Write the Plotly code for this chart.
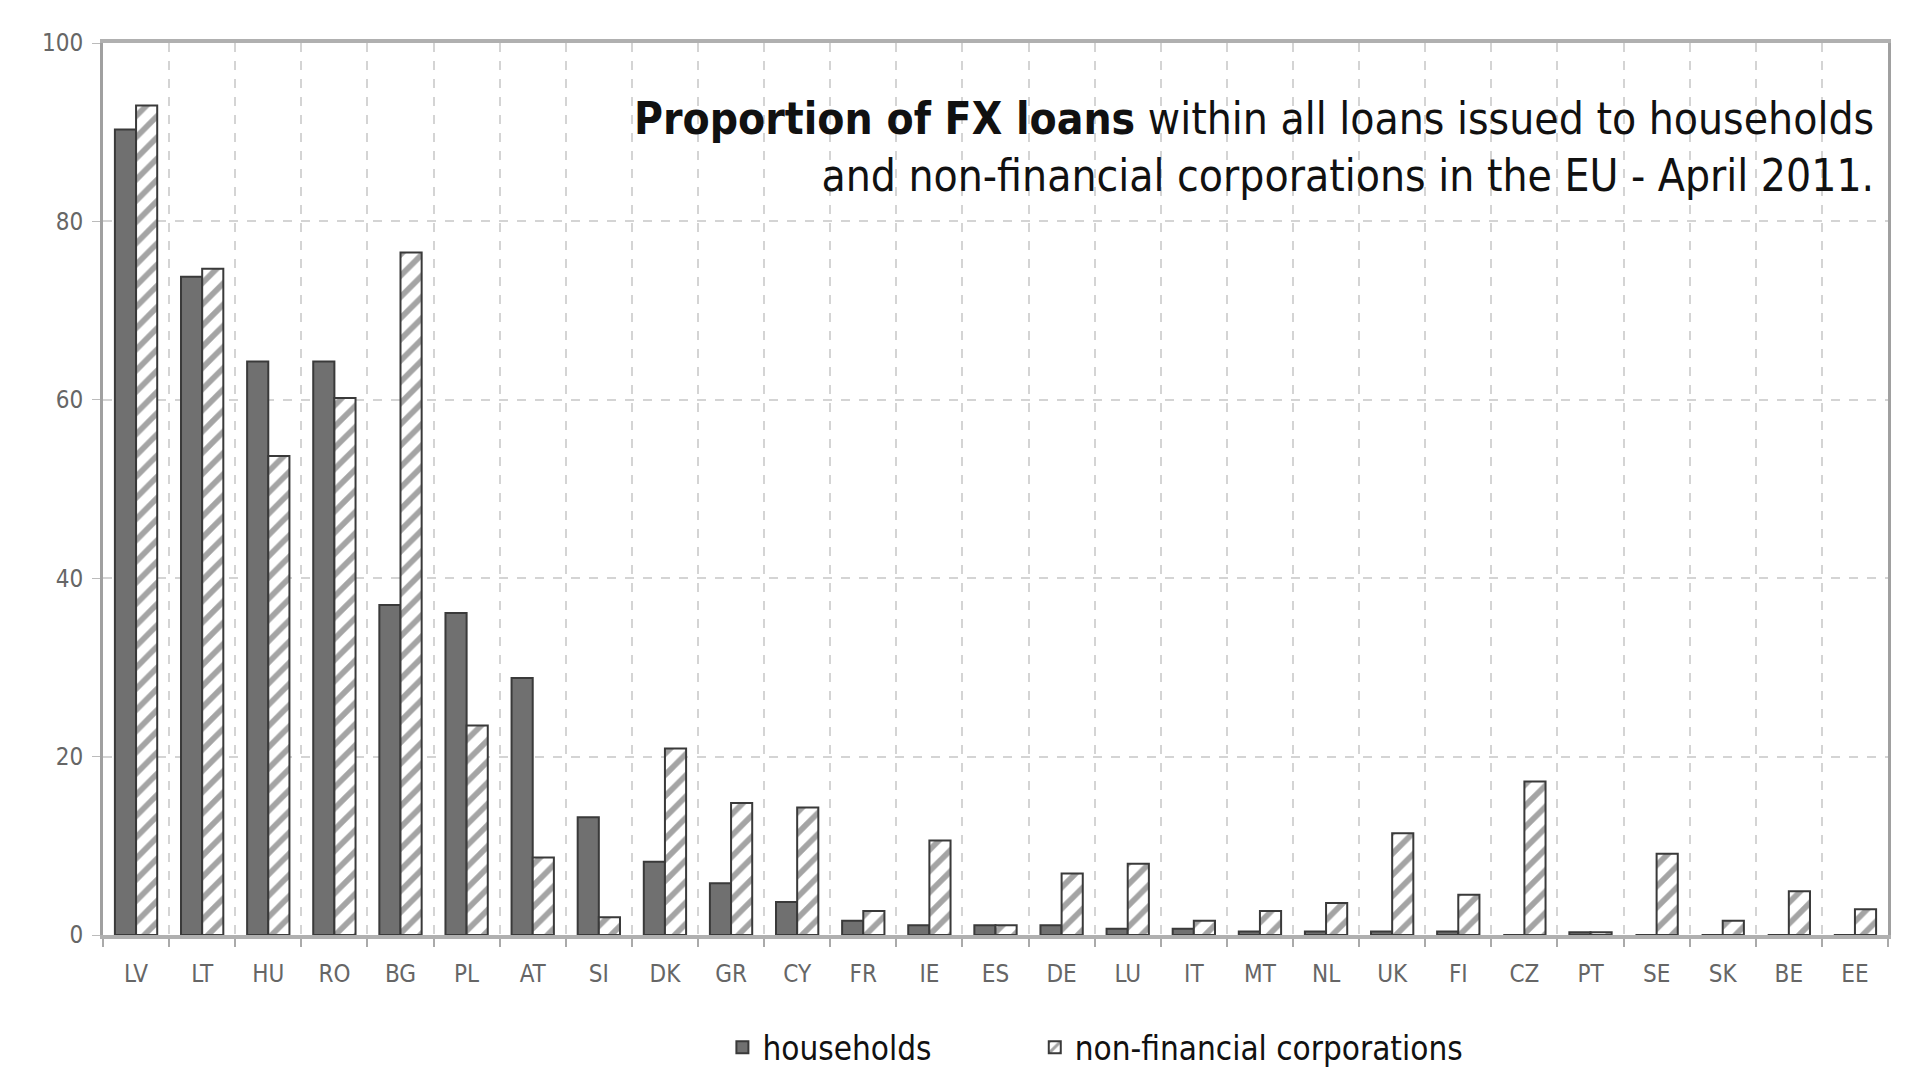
import plotly.graph_objects as go

countries = ["LV", "LT", "HU", "RO", "BG", "PL", "AT", "SI", "DK", "GR", "CY", "FR", "IE", "ES",
             "DE", "LU", "IT", "MT", "NL", "UK", "FI", "CZ", "PT", "SE", "SK", "BE", "EE"]
households = [90.3, 73.8, 64.3, 64.3, 37.0, 36.1, 28.8, 13.2, 8.2, 5.8, 3.7, 1.6, 1.1, 1.1,
              1.1, 0.7, 0.7, 0.4, 0.4, 0.4, 0.4, 0.0, 0.3, 0.0, 0.0, 0.0, 0.0]
nonfin_corps = [93.0, 74.7, 53.7, 60.2, 76.5, 23.5, 8.7, 2.0, 20.9, 14.8, 14.3, 2.7, 10.6, 1.1,
                6.9, 8.0, 1.6, 2.7, 3.6, 11.4, 4.5, 17.2, 0.3, 9.1, 1.6, 4.9, 2.9]
y_ticks = [0, 20, 40, 60, 80, 100]

FONT = "Liberation Sans Narrow, DejaVu Sans Condensed, Roboto, sans-serif"

fig = go.Figure()
fig.add_trace(go.Bar(
    x=countries, y=households, name="households", legend="legend",
    marker=dict(color="#707070", line=dict(color="#3a3a3a", width=2)),
))
fig.add_trace(go.Bar(
    x=countries, y=nonfin_corps, name="non-financial corporations", legend="legend2",
    marker=dict(color="white", line=dict(color="#3a3a3a", width=2),
                pattern=dict(shape="/", fgcolor="#4a4a4a", bgcolor="white", size=15, solidity=0.38)),
))

leg_common = dict(orientation="h", yanchor="middle", y=-0.126, xanchor="left",
                  font=dict(family=FONT, size=33, color="#111111"),
                  itemwidth=30, bgcolor="rgba(0,0,0,0)")

fig.update_layout(
    width=1922, height=1074,
    margin=dict(l=103, r=34, t=43, b=139, autoexpand=False),
    paper_bgcolor="white", plot_bgcolor="white",
    barmode="group", bargap=0.36, bargroupgap=0.0,
    font=dict(family=FONT, color="#555555"),
    showlegend=True,
    legend=dict(x=0.347, **leg_common),
    legend2=dict(x=0.522, **leg_common),
    annotations=[dict(
        text="<b>Proportion of FX loans</b> within all loans issued to households<br>"
             "and non-financial corporations in the EU - April 2011.",
        xref="paper", yref="paper", x=0.9935, y=0.946, xanchor="right", yanchor="top",
        align="right", showarrow=False,
        font=dict(family=FONT, size=44, color="#111111"),
    )],
)

fig.update_xaxes(
    type="category", tickson="boundaries", ticks="outside", ticklen=8, tickcolor="#aaaaaa",
    tickwidth=2, ticklabelstandoff=14, automargin=False,
    showgrid=True, gridcolor="#d4d4d4", griddash="dash", gridwidth=2,
    showline=True, linecolor="#b0b0b0", linewidth=4, mirror=True,
    tickfont=dict(family=FONT, size=24, color="#666666"),
)
fig.update_yaxes(
    range=[0, 100], tickvals=y_ticks, ticks="outside", ticklen=8, tickcolor="#bbbbbb",
    ticklabelstandoff=4, automargin=False,
    showgrid=True, gridcolor="#d4d4d4", griddash="dash", gridwidth=2,
    showline=True, linecolor="#a0a0a0", linewidth=3, mirror=True,
    zeroline=False,
    tickfont=dict(family=FONT, size=24, color="#666666"),
)

fig.write_html("out.html")
